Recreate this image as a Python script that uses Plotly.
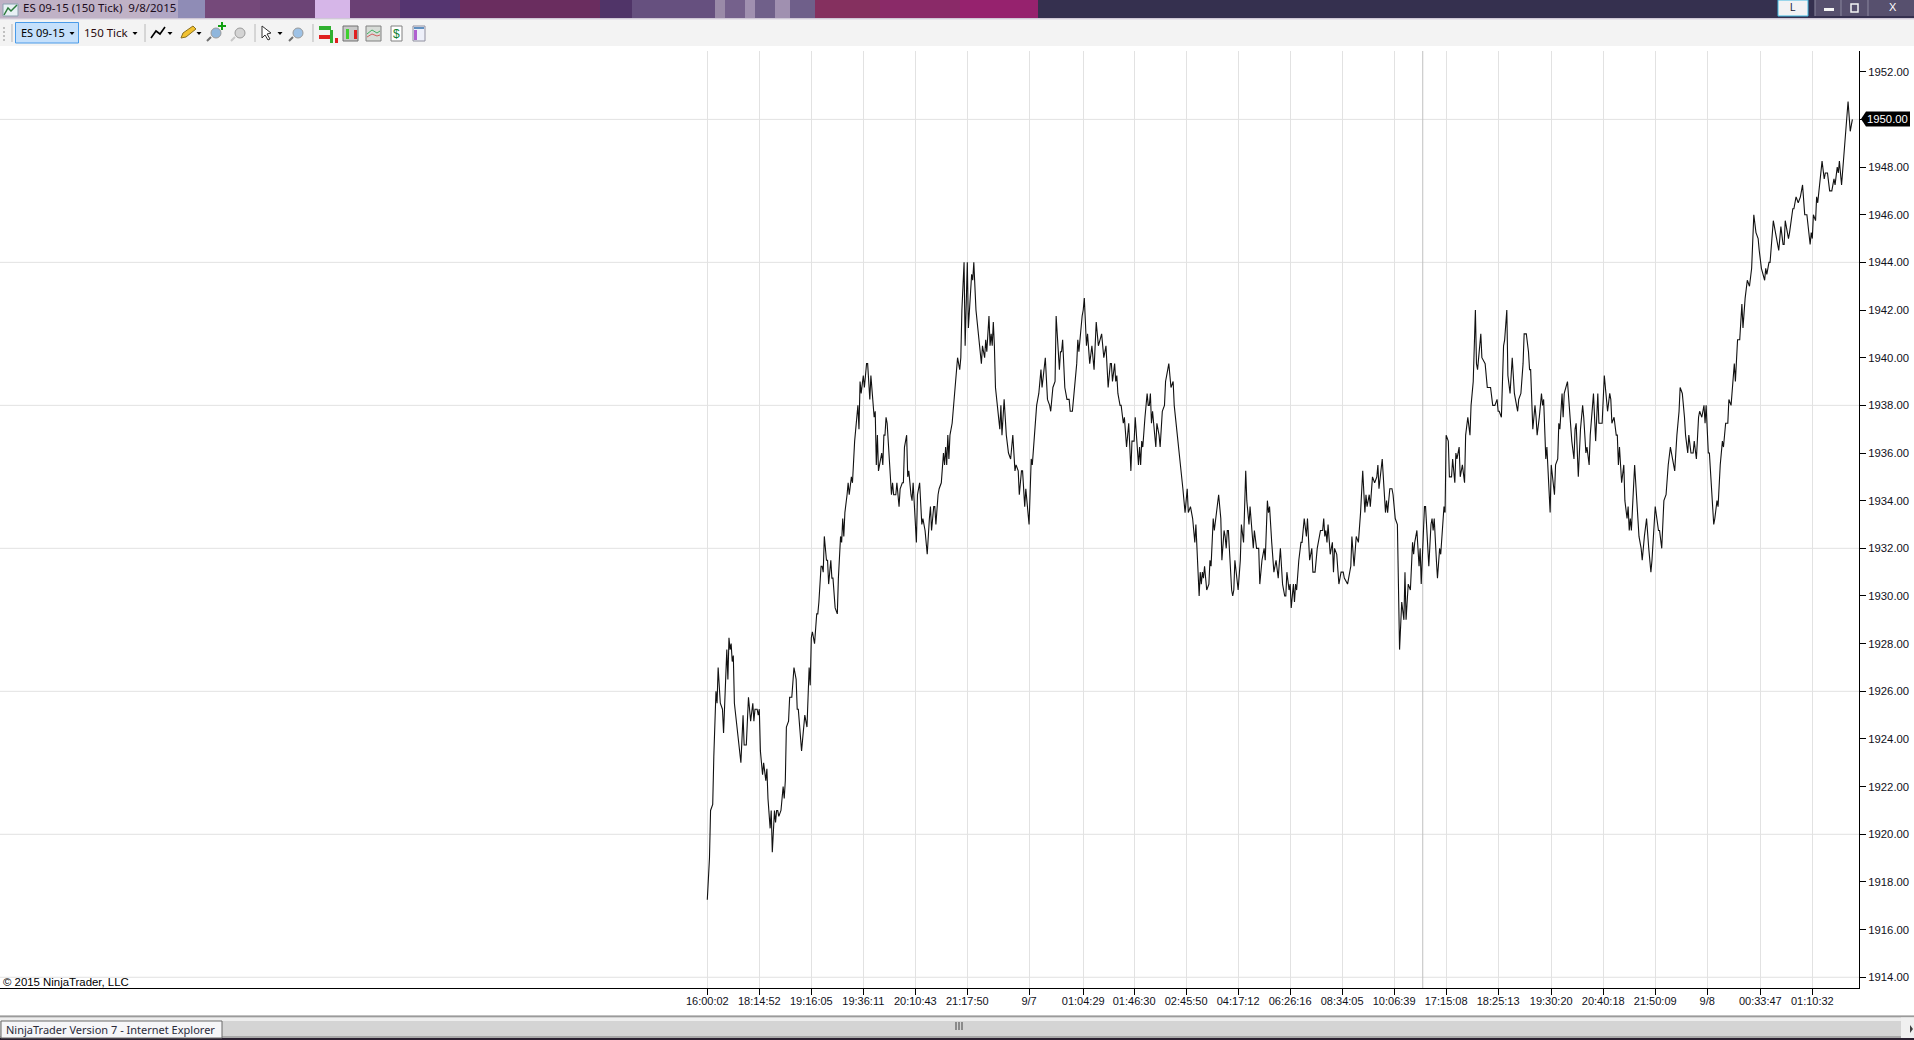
import plotly.graph_objects as go

W, H = 1914, 1040
PL, PR, PT, PB = 0, 1859, 51, 988

# ---- data ----
bars = [
 0,2,3,5,6,8,9,10,12,14,15,17,18,19,20,21,22,23,24,25,27,29,31,33,34,36,38,40,42,43,44,46,47,48,49,51,52,54,55,56,58,59,60,62,63,64,65,66,68,70,71,72,73,75,76,78,80,82,83,84,87,90,92,94,95,96,97,99,101,102,103,105,106,107,
 108,110,111,112,114,115,116,118,120,121,122,123,124,125,126,127,129,130,131,133,134,136,138,139,140,141,142,144,145,146,147,148,149,150,151,153,154,155,156,157,158,159,161,162,163,164,165,166,168,169,170,171,172,174,175,177,178,180,181,182,184,185,186,188,189,190,193,194,196,198,199,201,203,205,206,207,209,210,211,213,214,216,218,219,220,221,222,223,224,226,227,229,231,233,234,235,237,238,240,241,243,244,245,246,248,250,252,253,254,256,257,258,260,261,262,263,264,265,266,268,270,271,272,274,276,278,280,282,284,285,287,288,290,291,293,294,297,299,300,302,304,306,308,309,312,314,316,317,319,321,322,325,326,327,328,330,332,334,335,337,340,341,342,343,346,347,348,350,351,353,355,357,359,361,364,366,368,370,
 372,373,374,376,377,378,379,381,382,384,385,387,389,391,392,394,395,398,399,400,401,402,404,406,407,408,409,410,411,414,415,417,418,420,422,423,424,426,428,430,431,434,436,439,441,443,444,446,448,450,451,452,454,455,456,457,458,459,461,463,464,465,467,468,470,472,474,475,477,478,479,480,481,484,485,486,487,490,492,493,495,497,498,500,501,503,504,505,507,509,510,512,514,515,517,518,519,521,523,525,527,529,531,533,534,535,537,538,539,541,542,543,544,546,548,549,551,553,554,556,558,559,561,563,564,566,568,569,570,571,572,573,575,577,578,579,581,583,585,587,588,591,593,594,595,597,599,601,603,605,607,608,609,611,612,614,616,618,619,620,623,625,626,627,628,630,632,633,635,637,638,639,641,643,644,645,647,649,651,652,653,655,657,658,659,662,663,666,668,669,670,671,673,674,676,677,680,681,682,684,685,687,688,690,691,692,694,695,697,699,700,702,704,705,707,709,710,711,714,715,718,719,720,722,723,725,727,729,730,731,733,735,736,738,739,741,743,745,747,748,749,
 751,753,754,756,758,759,760,762,764,765,766,768,770,771,772,774,775,778,779,782,783,785,786,787,789,790,791,794,796,798,800,801,802,804,806,808,809,811,812,814,815,818,820,822,823,826,828,831,833,834,835,837,839,840,841,842,844,846,847,849,850,851,852,853,856,858,860,862,863,865,867,869,871,872,875,878,879,881,883,885,887,889,891,893,895,897,898,900,902,903,905,906,908,910,911,913,915,916,918,920,921,922,924,925,929,930,932,933,935,937,938,940,942,943,945,946,948,949,951,953,955,956,958,960,962,964,966,968,970,971,973,976,977,978,980,981,984,986,989,991,993,994,995,998,999,1002,1003,1005,1007,1009,1011,1013,1015,1018,1019,1020,1021,1023,1024,1025,1027,1029,1031,1032,1034,1036,1038,1040,1041,1043,1044,1045,1047,1049,1051,1053,1055,1057,
]
prices = [
 1917.25,1919,1921,1921.25,1923.25,1926,1925.5,1927,1925.5,1925.25,1924.25,1926.5,1927.75,1926.5,1928.25,1927.75,1928,1927.25,1927.5,1925.5,1924.75,1923.75,1923,1925,1923.75,1923.75,1925.75,1924.75,1925.5,1924.75,1925.25,1925.25,1925,1925.25,1923.5,1922.5,1923,1922.25,1922.75,1921.5,1920.25,1921,1919.25,1921,1920.5,1921,1921,1920.75,1921,1922,1921.5,1922.25,1924.5,1924.75,1925.75,1925.75,1927,1926.5,1925.25,1925.25,1923.5,1925,1924.5,1927,1926.25,1928.25,1928.5,1928,1929.25,1929.25,1929.75,1931.25,1931.25,1931,
 1932.5,1931.5,1931.5,1930.5,1931.5,1930.75,1930.75,1929.5,1929.25,1930.75,1931.5,1932.5,1932.25,1933.25,1932.5,1933.5,1934.25,1934.75,1934.25,1935,1934.75,1936.5,1937.5,1938,1937,1939,1938.5,1939.25,1938.75,1939.25,1939.75,1939.75,1939,1938.25,1939.25,1938,1937.5,1937.75,1935.5,1936.75,1935.25,1935.5,1936,1935.5,1936.75,1936.75,1937.5,1937.25,1935.5,1934.75,1934.25,1934.75,1934.25,1934.25,1934.75,1933.75,1934.5,1934.75,1934.75,1936.25,1936.75,1935,1935.25,1934.25,1934,1934.75,1932.25,1934.25,1934.75,1933,1933.25,1932.75,1931.75,1933.25,1933.75,1932.75,1933.75,1933.75,1933,1934.25,1934.5,1934.75,1936,1935.5,1936.25,1935.5,1936.75,1935.75,1936.75,1937.25,1937.75,1938.75,1940,1939.5,1940,1942,1944,1940.5,1944,1941.25,1942.5,1943.5,1943.25,1944,1942,1941,1940,1939.75,1940.5,1940,1940.75,1940.25,1941.75,1940.5,1941,1940.5,1941.5,1940.5,1938.75,1937.75,1937,1938,1936.75,1938.25,1936.75,1936,1935.75,1936.75,1935.25,1935.5,1935.25,1934.25,1935.25,1935.25,1933.75,1934.5,1933,1935.75,1935.5,1936.75,1938,1938.5,1939.5,1938.75,1940,1938.25,1938,1937.75,1938.75,1939,1941.75,1939.5,1940.25,1940.25,1940.75,1938.75,1938.25,1938.25,1937.75,1937.75,1939.5,1939.75,1940.75,1940.25,1941.75,1942,1942.5,1940.5,1941,1939.75,1940.5,1939.5,1941.5,1940.5,1941,1940,1940.5,1938.75,
 1939.75,1939.75,1939,1939.75,1939,1939.25,1938.5,1938,1938,1937.25,1937.5,1936.25,1937.25,1935.25,1936.5,1936.5,1937.5,1935.5,1936.25,1935.5,1936.5,1936.25,1937.5,1938.5,1938,1938,1938.5,1937.25,1937.75,1936.25,1937.25,1936.75,1936.25,1937.75,1938,1939,1939.25,1939.75,1938.75,1939,1938,1936.75,1936,1934.5,1933.5,1934.5,1933.5,1933.75,1933.25,1932.25,1933,1932,1930,1931,1930.5,1931,1930.75,1931.25,1930.25,1930.5,1931.5,1931.25,1933.25,1932.75,1933.5,1934.25,1933.25,1931.5,1932.75,1932.5,1932,1932.75,1932.75,1930.25,1930,1930.25,1931.5,1930.25,1931.5,1933,1932.25,1935.25,1934,1933,1933.75,1932.5,1932,1932.75,1932,1932,1930.5,1931.5,1932,1931.5,1934,1933.5,1933.75,1932.25,1931,1931.5,1930.75,1932,1930.5,1930,1930,1931,1930.25,1930.5,1929.5,1930.5,1929.75,1930.5,1930.25,1931.5,1932.25,1932.25,1933.25,1932.5,1933.25,1931.5,1932,1931,1931,1932,1932.25,1932.75,1932.75,1933.25,1932.5,1932.75,1932.25,1933,1931.75,1932.25,1931,1932,1931.75,1930.5,1931,1931,1930.75,1930.5,1931,1931.25,1932.5,1931.25,1932.5,1932.25,1933.5,1935.25,1933.5,1934.25,1933.75,1934.25,1933.75,1935,1934.75,1935,1935.5,1934.5,1935.75,1934.25,1933.5,1934,1933.5,1934.5,1934.5,1934.25,1933.25,1933,1931,1927.75,1929.75,1929,1931,1929,1930.5,1930.25,1932.25,1931.75,1932.25,1932.75,1931.25,1932,1930.5,1933.75,1933.75,1931.25,1933,1933.25,1932.75,1933.25,1931.5,1930.75,1932,1931.75,1933.75,1933.5,1936.75,1936.5,1935,1935,1935.75,1934.75,1936,1935.75,1936.25,1935,1935.5,1934.75,1936.75,1937.5,1936.75,1938,1939,1942,1939.75,1939.5,1941,1940,1939.75,1939.25,1938.75,1938.75,1938.75,1938,1938,1938.25,1937.75,1937.75,1937.5,1940.5,1940.75,1942,1939.25,1938.5,1940,1938.5,1938,1937.75,1938.25,
 1938.5,1939.75,1941,1941,1940.25,1939.5,1939.5,1937,1938,1937.5,1936.75,1937.5,1938.5,1938,1938.25,1935.75,1936.25,1933.5,1935.5,1934.25,1935.5,1935.75,1937.25,1937,1938.5,1937.5,1938.5,1939,1937.75,1936.5,1935.75,1937,1937.25,1935,1937,1938,1937.5,1936,1936.25,1935.5,1936.75,1938.5,1936.5,1938.5,1937.25,1937.25,1939.25,1937.75,1938.5,1938.25,1937.25,1937.5,1936.75,1936.75,1935.5,1936.25,1934.75,1935.5,1934,1933.25,1933.75,1932.75,1933.25,1932.75,1935.5,1934,1932.5,1932,1931.5,1932.5,1933.25,1932,1931,1931.5,1933.75,1932.75,1932.75,1932,1934,1934.25,1935.5,1936.25,1935.75,1935.25,1936.75,1937.75,1938.75,1938.5,1937.5,1936.75,1936,1936.75,1936,1936,1936.5,1935.75,1937.5,1937.75,1937.5,1938,1937.25,1938,1936,1936,1933,1933.25,1934,1933.75,1935.5,1936.5,1936.25,1937.25,1937.25,1938.25,1938,1938.75,1939.75,1939,1940.75,1940.75,1942.25,1941.25,1942.5,1943.25,1943,1943.75,1946,1945.25,1945,1944.5,1943.75,1943.25,1943.75,1943.5,1944,1944,1945.75,1945.25,1944.5,1945.5,1944.75,1944.75,1945.75,1945,1945.25,1946.25,1946.25,1946.75,1946.5,1946.75,1947.25,1946,1946,1944.75,1945.25,1945,1946,1945.75,1946.75,1946.5,1947.5,1948.25,1947.5,1947.75,1947.75,1947,1947,1947.5,1947.25,1948,1947.75,1948.25,1947.25,1948.5,1949.5,1950.75,1949.5,1950,
]
assert len(bars) == len(prices), (len(bars), len(prices))

price_ticks = list(range(1914, 1953, 2))
price_grid = list(range(1914, 1951, 6))
time_ticks = [0, 48, 96, 144, 192, 240, 297, 347, 394, 442, 490, 538, 586, 634, 682, 730, 779, 827, 875, 923, 972, 1020]
time_labels = ["16:00:02", "18:14:52", "19:16:05", "19:36:11", "20:10:43", "21:17:50", "9/7", "01:04:29", "01:46:30", "02:45:50",
               "04:17:12", "06:26:16", "08:34:05", "10:06:39", "17:15:08", "18:25:13", "19:30:20", "20:40:18", "21:50:09", "9/8",
               "00:33:47", "01:10:32"]
cursor_bar = 660.4
last_price = 1950
x_first, x_last = -652.9, 1063.1
y_low, y_high = 1913.55, 1952.87

UI = "Noto Sans"
CHART = "Liberation Sans"

# ---- helpers for window chrome, in window pixels ----
def xp(x): return (x - PL) / (PR - PL)
def yp(y): return (PB - y) / (PB - PT)

shapes, annos = [], []

def rect(x0, y0, x1, y1, fill, line=None, lw=1, layer="above"):
    shapes.append(dict(type="rect", xref="paper", yref="paper", x0=xp(x0), x1=xp(x1), y0=yp(y1), y1=yp(y0),
                       fillcolor=fill, line=dict(color=line, width=lw) if line else dict(width=0), layer=layer))

def poly(pts, fill=None, line=None, lw=1, close=False):
    p = "M" + " L".join(f"{xp(a):.6f},{yp(b):.6f}" for a, b in pts) + (" Z" if close else "")
    d = dict(type="path", xref="paper", yref="paper", path=p, layer="above",
             line=dict(color=line, width=lw) if line else dict(width=0))
    if fill: d["fillcolor"] = fill
    shapes.append(d)

def text(x, y, s, size, color="#000000", font=UI, anchor="left"):
    annos.append(dict(xref="paper", yref="paper", x=xp(x), y=yp(y), text=s, showarrow=False, xanchor=anchor,
                      yanchor="middle", font=dict(family=font, size=size, color=color), borderpad=0, align="left"))

# title bar
for a, b, c in [(0,150,"#c0b2c6"),(150,178,"#b0a6c4"),(178,205,"#8f8cb6"),(205,260,"#75497a"),(260,315,"#6c4476"),(315,350,"#d6b6e8"),(350,400,"#6a4074"),
                (400,460,"#553570"),(460,600,"#6a2d5f"),(600,632,"#503468"),(632,715,"#66507f"),(715,725,"#9a8aa8"),(725,745,"#75618c"),
                (745,755,"#a090b0"),(755,775,"#70608a"),(775,790,"#a090b0"),(790,815,"#6f5f8a"),
                (815,880,"#85305f"),(880,960,"#8a2a68"),(960,1038,"#96226e"),(1038,1914,"#35304f")]:
    rect(a, 0, b, 18, c)
rect(0, 18, W, 19.5, "#cfc8d6")
rect(1778, 0, 1808, 16, "#f2f2f4", "#40b8e0", 1)
rect(1815, 0, 1914, 16, "#57506e")
poly([(1841,0),(1841,16)], line="#8d88a0")
poly([(1868,0),(1868,16)], line="#8d88a0")
poly([(1815,0),(1815,16)], line="#8d88a0")
text(1793, 7.5, "L", 10, "#1a1a3a", CHART, "center")
rect(1824, 8, 1834, 11, "#f5f5f5")
rect(1851, 4, 1858, 12, "#57506e", "#f5f5f5", 1.5)
text(1893, 7, "X", 11, "#ffffff", CHART, "center")
rect(3, 4, 18, 16, "#e8f0f4", "#8aa0b0", 1)
poly([(4,15),(8,8),(11,11),(17,5)], line="#2c7a3c", lw=1.5)
text(21.5, 8, "ES 09-15 (150 Tick)  9/8/2015", 11.5, "#1c0c1c")

# toolbar
rect(0, 20, W, 46, "#f3f3f3")
for x in (12, 145, 255, 313):
    poly([(x,24),(x,42)], line="#b8b8b8")
for y in (27, 31, 35, 39):
    rect(3, y, 5, y+2, "#c0c0c0")
rect(15.5, 22.5, 78.5, 43, "#c5e0fb", "#4a9be8", 1)
text(20, 32.5, "ES 09-15", 11, "#000000")
text(83, 32.5, "150 Tick", 11.5, "#2a0c10")
for x in (72, 135, 170, 199, 280):
    poly([(x-2.5,32),(x+2.5,32),(x,35)], fill="#000000", close=True)
poly([(151,38),(156,31),(160,34),(165,27)], line="#000000", lw=1.6)
poly([(181,38),(183,33),(193,26),(196,29),(186,37)], fill="#f2c230", line="#8a7020", close=True)
for cx, col in ((216, "#8fb6dc"), (240, "#d4d4d4"), (298, "#9ec2e6")):
    shapes.append(dict(type="circle", xref="paper", yref="paper", x0=xp(cx-5), x1=xp(cx+5), y0=yp(38), y1=yp(28),
                       fillcolor=col, line=dict(color="#9a9a9a", width=1), layer="above"))
    poly([(cx-5,37),(cx-9,41)], line="#707070" if col != "#d4d4d4" else "#c8c8c8", lw=2)
poly([(222,22),(222,30)], line="#10a010", lw=2)
poly([(218,26),(226,26)], line="#10a010", lw=2)
poly([(262,26),(262,38),(265,35),(268,40),(270,39),(267,34),(271,33)], fill="#ffffff", line="#303030", close=True)
rect(319, 26, 331, 30, "#30b030"); rect(319, 35, 331, 39, "#e02020"); rect(330, 30, 333, 43, "#30b030"); rect(335, 38, 338, 43, "#e02020")
rect(343, 26, 358, 41, "#c8c8c8", "#707070")
rect(346, 29, 349, 39, "#40d030"); rect(354, 30, 357, 39, "#e02020")
rect(366, 26, 381, 41, "#d8dcd8", "#808080")
poly([(367,34),(372,30),(377,33),(380,31)], line="#40b060")
poly([(367,37),(372,34),(377,36),(380,35)], line="#d06060")
rect(391, 26, 402, 41, "#ffffff", "#808080")
text(396.5, 34, "$", 12, "#108030", CHART, "center")
rect(413, 26, 425, 41, "#eef0fa", "#9090a0")
rect(414, 27, 424, 29, "#6090c0"); rect(414, 30, 417, 40, "#b060d0")

# copyright
text(2, 982, "© 2015 NinjaTrader, LLC", 11.4, "#000000", CHART)

# price tag
poly([(1861,119),(1866,111.5),(1910,111.5),(1910,126.5),(1866,126.5)], fill="#000000", close=True)
text(1887.5, 119, f"{last_price:.2f}", 11.3, "#ffffff", CHART, "center")

# bottom scroll bar
rect(0, 1015.5, W, 1039, "#d4d4d4", layer="above")
rect(0, 1015.5, W, 1017.5, "#9a9a9a")
rect(0, 1017.5, W, 1021, "#eeeeee")
rect(0, 1036, W, 1038, "#a8a8a8")
rect(0, 1038, W, 1040, "#2a2030")
for x in (955, 958, 961):
    rect(x, 1022, x+2, 1030, "#8a8a8a")
rect(1901, 1017.5, W, 1038, "#f0f0f0")
poly([(1910,1025),(1910,1033),(1913,1029)], fill="#404040", close=True)
rect(1, 1021, 222, 1038, "#f6f6f8", "#6a6a6a", 1)
text(5, 1029.5, "NinjaTrader Version 7 - Internet Explorer", 11, "#2a2a3a")

# price gridlines and crosshair (drawn on the chart's own scales)
for p in price_grid:
    shapes.append(dict(type="line", xref="paper", yref="y", x0=0, x1=1, y0=p, y1=p,
                       line=dict(color="#e2e2e2", width=1), layer="below"))
shapes.append(dict(type="line", xref="x", yref="paper", x0=cursor_bar, x1=cursor_bar, y0=0, y1=1,
                   line=dict(color="#c0c0c0", width=1), layer="below"))

fig = go.Figure(go.Scatter(x=bars, y=prices, mode="lines", line=dict(color="#111111", width=1.1), hoverinfo="skip"))
fig.update_layout(
    width=W, height=H, margin=dict(l=PL, r=W-PR, t=PT, b=H-PB, pad=0),
    paper_bgcolor="#ffffff", plot_bgcolor="#ffffff", showlegend=False,
    shapes=shapes, annotations=annos,
    xaxis=dict(range=[x_first, x_last], tickmode="array", tickvals=time_ticks, ticktext=time_labels, tickangle=0,
               showgrid=True, gridcolor="#e2e2e2", gridwidth=1, zeroline=False,
               showline=True, linecolor="#000000", linewidth=1, ticks="outside", ticklen=6, tickcolor="#000000", tickwidth=1,
               ticklabelstandoff=-3,
               tickfont=dict(family=CHART, size=11, color="#10101a")),
    yaxis=dict(range=[y_low, y_high], side="right", tickmode="array", tickvals=price_ticks, ticktext=[f"{p:.2f}" for p in price_ticks],
               showgrid=False, zeroline=False,
               showline=True, linecolor="#000000", linewidth=1, ticks="outside", ticklen=6, tickcolor="#000000", tickwidth=1,
               tickfont=dict(family=CHART, size=11.3, color="#10101a")),
)
fig.write_html("out.html", config=dict(displayModeBar=False),
               post_script="document.documentElement.style.overflow='hidden';document.body.style.margin='0';document.body.style.overflow='hidden';")
